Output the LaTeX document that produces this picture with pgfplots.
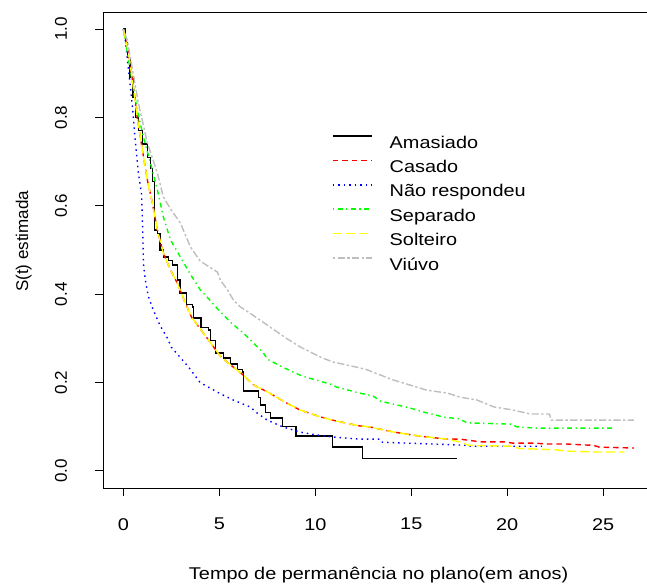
\documentclass[border=0pt]{standalone}
\usepackage{fontspec}
\setmainfont{Liberation Sans}
\newfontfamily\hfont[FakeStretch=1.17]{Liberation Sans}
\usepackage{pgfplots}
\pgfplotsset{compat=1.18}
\definecolor{rgray}{HTML}{BEBEBE}
\definecolor{rred}{HTML}{FF0000}
\definecolor{rblue}{HTML}{0000FF}
\definecolor{rgreen}{HTML}{00FF00}
\definecolor{ryellow}{HTML}{FFFF00}
\newcommand{\tf}{\fontsize{17}{20}\selectfont}
\begin{document}
\begin{tikzpicture}[x=1pt,y=1pt]
\path[use as bounding box] (0,0) rectangle (647,-587);
\begin{axis}[
  at={(103pt,-488pt)}, anchor=south west, scale only axis,
  width=551.2pt, height=476pt,
  xmin=-1.064, xmax=27.66, ymin=-0.0385, ymax=1.0385,
  axis line style={line width=1pt},
  xtick={0,5,10,15,20,25}, xticklabels={0,5,10,15,20,25},
  ytick={0,0.2,0.4,0.6,0.8,1}, yticklabels={0.0,0.2,0.4,0.6,0.8,1.0},
  xtick pos=bottom, ytick pos=left, tick align=outside, major tick length=8pt,
  tick style={line width=1pt, black},
  xticklabel style={font=\hfont\tf, anchor=north, inner sep=0pt, yshift=-22pt},
  yticklabel style={font=\tf, xshift=-28pt, rotate=90, anchor=base, inner sep=0pt},
  xlabel={Tempo de permanência no plano(em anos)},
  ylabel={S(t) estimada},
  xlabel style={font=\hfont\tf, at={(axis description cs:0.5,-0.193)}, anchor=base, inner sep=0pt},
  ylabel style={font=\tf, at={(axis description cs:-0.136,0.518)}, rotate=0, anchor=base, inner sep=0pt},
  legend style={at={(axis description cs:0.4155,0.7525)}, anchor=north west, draw=none, fill=none,
    inner sep=0pt, outer sep=0pt, font=\hfont\tf, row sep=0pt,
    nodes={inner sep=0pt, text height=18.2pt, text depth=6.2pt}},
  legend cell align=left,
  legend image code/.code={\draw[#1, line width=1.7pt] (0pt,6pt) -- (39pt,6pt);},
  /tikz/every odd column/.append style={column sep=17pt},
]
\addplot[black, line width=1.3pt, const plot] coordinates {
(0,1.0)(0.1,0.97)(0.2,0.935)(0.35,0.89)(0.5,0.845)(0.63,0.80)(0.8,0.77)(1.0,0.74)(1.25,0.71)(1.4,0.685)(1.5,0.655)(1.61,0.60)(1.63,0.545)(1.77,0.538)(1.9,0.50)(2.08,0.484)(2.34,0.477)(2.55,0.466)(2.81,0.432)(2.95,0.403)(3.3,0.376)(3.59,0.371)(3.65,0.346)(4.05,0.324)(4.45,0.319)(4.55,0.296)(4.79,0.267)(5.21,0.256)(5.57,0.242)(5.94,0.229)(6.2,0.224)(6.25,0.181)(7.03,0.167)(7.14,0.149)(7.4,0.133)(7.66,0.12)(8.28,0.10)(9.0,0.079)(10.9,0.054)(12.45,0.029)(17.4,0.029)};
\addlegendentry{Amasiado}
\addplot[rred, line width=1.4pt, dash pattern=on 5.5pt off 4pt] coordinates {
(0,1)(0.27,0.946)(0.52,0.869)(0.72,0.80)(0.99,0.726)(1.25,0.658)(1.51,0.606)(1.77,0.545)(2.08,0.493)(2.45,0.455)(2.81,0.425)(3.13,0.39)(3.55,0.348)(4.17,0.312)(4.69,0.281)(5.05,0.26)(5.47,0.244)(6.25,0.217)(6.77,0.195)(7.5,0.179)(8.5,0.154)(9.2,0.138)(10.3,0.122)(10.9,0.115)(12.3,0.102)(12.8,0.10)(14.1,0.088)(15.1,0.081)(15.8,0.077)(16.9,0.072)(17.55,0.072)(18.6,0.066)(19.8,0.066)(20.3,0.063)(21.4,0.063)(22.1,0.061)(23.1,0.061)(24.5,0.058)(24.8,0.054)(26.6,0.052)};
\addlegendentry{Casado}
\addplot[rblue, line width=1.4pt, dash pattern=on 1.5pt off 4pt] coordinates {
(0,1)(0.1,0.975)(0.27,0.907)(0.47,0.824)(0.63,0.742)(0.78,0.674)(0.95,0.625)(1.0,0.55)(1.05,0.465)(1.15,0.43)(1.3,0.395)(1.55,0.365)(1.9,0.33)(2.3,0.30)(2.5,0.28)(3.0,0.255)(3.4,0.235)(4.0,0.20)(4.5,0.188)(5.0,0.176)(5.7,0.161)(6.6,0.145)(7.0,0.13)(7.5,0.115)(8.3,0.10)(9.2,0.088)(10.0,0.082)(10.9,0.077)(12.3,0.072)(13.4,0.072)(13.5,0.065)(16.1,0.061)(18.0,0.058)(18.1,0.056)(21.8,0.056)};
\addlegendentry{Não respondeu}
\addplot[rgreen, line width=1.4pt, dash pattern=on 1.3pt off 3.6pt on 4.8pt off 3.6pt] coordinates {
(0,1)(0.36,0.907)(0.72,0.817)(1.04,0.756)(1.41,0.697)(1.77,0.636)(2.08,0.575)(2.45,0.523)(2.97,0.484)(3.49,0.445)(4.0,0.41)(4.17,0.403)(4.9,0.367)(5.57,0.337)(6.25,0.312)(7.0,0.28)(7.3,0.267)(7.5,0.253)(8.3,0.235)(9.3,0.215)(10.9,0.195)(11.1,0.19)(12.34,0.176)(13.0,0.17)(13.4,0.158)(14.9,0.143)(15.5,0.135)(16.7,0.122)(17.5,0.118)(17.9,0.109)(20.2,0.106)(20.5,0.10)(21.5,0.097)(25.6,0.097)};
\addlegendentry{Separado}
\addplot[ryellow, line width=1.4pt, dash pattern=on 9pt off 4pt] coordinates {
(0,1)(0.27,0.946)(0.52,0.869)(0.72,0.80)(0.99,0.726)(1.25,0.658)(1.51,0.606)(1.77,0.545)(2.08,0.493)(2.45,0.455)(2.81,0.425)(3.13,0.39)(3.55,0.348)(4.17,0.312)(4.69,0.281)(5.05,0.26)(5.47,0.244)(6.25,0.217)(6.77,0.195)(7.5,0.179)(8.5,0.154)(9.2,0.138)(10.3,0.122)(10.9,0.115)(12.3,0.102)(12.8,0.10)(14.1,0.088)(15.1,0.081)(15.8,0.077)(16.9,0.072)(17.5,0.066)(18.0,0.058)(20.3,0.056)(20.6,0.051)(22.5,0.048)(23.1,0.045)(24.7,0.043)(26.1,0.043)};
\addlegendentry{Solteiro}
\addplot[rgray, line width=1.4pt, dash pattern=on 2.4pt off 2.4pt on 7.2pt off 2.4pt] coordinates {
(0,1)(0.2,0.975)(0.78,0.833)(1.25,0.742)(1.77,0.674)(2.08,0.62)(2.5,0.59)(2.97,0.561)(3.49,0.507)(4.0,0.475)(4.9,0.45)(5.05,0.432)(5.42,0.41)(5.73,0.387)(6.1,0.371)(6.6,0.357)(7.5,0.33)(8.5,0.30)(9.2,0.281)(10.3,0.257)(10.9,0.247)(12.34,0.233)(12.7,0.229)(13.4,0.217)(14.06,0.206)(15.8,0.183)(16.9,0.176)(17.55,0.167)(18.4,0.161)(19.3,0.145)(20.3,0.138)(21.2,0.129)(22.2,0.129)(22.3,0.115)(26.6,0.115)};
\addlegendentry{Viúvo}
\end{axis}
\end{tikzpicture}
\end{document}
